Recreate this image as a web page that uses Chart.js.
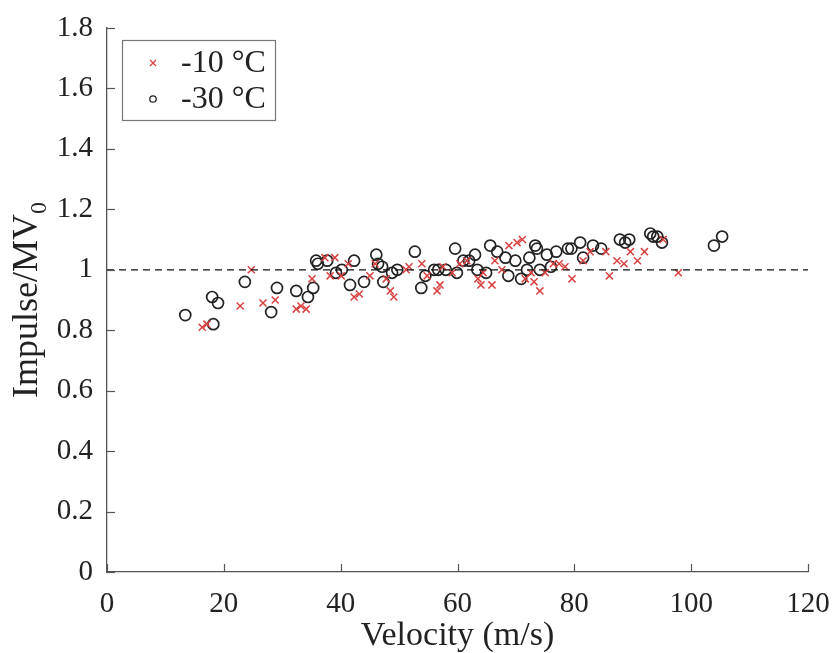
<!DOCTYPE html>
<html>
<head>
<meta charset="utf-8">
<script src="https://cdn.jsdelivr.net/npm/chart.js@4.4.1/dist/chart.umd.min.js"></script>
<style>
  body { margin: 0; background: #fff; }
  canvas { display: block; }
</style>
</head>
<body>
<canvas id="impulseChart" width="832" height="653"></canvas>
<script>
// -10 °C series (red crosses)
var vel10 = [16.3, 17.1, 22.8, 24.7, 26.7, 28.8, 32.4, 33.2, 34.1, 35.1, 37.3, 38.2, 39.0, 40.1, 41.3,
  42.3, 43.2, 45.0, 45.9, 47.8, 48.5, 49.1, 51.2, 51.7, 53.9, 54.8, 56.5, 57.0, 57.5, 59.1, 60.4, 61.6,
  63.5, 64.0, 64.4, 65.9, 66.4, 67.6, 68.8, 70.2, 71.1, 71.6, 72.6, 73.1, 74.1, 75.0, 76.4, 77.4, 78.4,
  79.6, 81.5, 82.7, 85.4, 86.0, 87.3, 88.5, 89.6, 90.8, 92.0, 95.2, 97.8];
var imp10 = [0.81, 0.82, 0.88, 1.0, 0.89, 0.90, 0.87, 0.88, 0.87, 0.97, 1.04, 0.98, 1.04, 0.98, 1.02,
  0.91, 0.92, 0.98, 1.02, 0.97, 0.93, 0.91, 1.0, 1.01, 1.02, 0.98, 0.93, 0.95, 1.01, 0.99, 1.02, 1.03,
  0.97, 0.95, 0.99, 0.95, 1.03, 1.0, 1.08, 1.09, 1.10, 0.97, 0.99, 0.96, 0.93, 0.99, 1.02, 1.02, 1.01,
  0.97, 1.03, 1.06, 1.06, 0.98, 1.03, 1.02, 1.06, 1.03, 1.06, 1.10, 0.99];

// -30 °C series (black circles)
var vel30 = [13.4, 18.0, 18.2, 19.0, 23.6, 28.1, 29.1, 32.4, 34.4, 35.3, 35.8, 36.1, 37.7, 39.2, 40.2,
  41.6, 42.3, 44.0, 46.1, 46.4, 47.1, 47.3, 48.8, 49.7, 52.7, 53.8, 54.5, 56.0, 56.7, 58.0, 59.6, 59.9,
  61.0, 62.0, 63.0, 63.4, 64.9, 65.6, 66.8, 68.2, 68.7, 69.9, 70.9, 71.9, 72.3, 73.3, 73.6, 74.1, 75.3,
  76.0, 76.9, 78.9, 79.5, 81.0, 81.5, 83.2, 84.6, 87.8, 88.7, 89.4, 93.0, 93.5, 94.2, 95.0, 103.9, 105.3];
var imp30 = [0.85, 0.91, 0.82, 0.89, 0.96, 0.86, 0.94, 0.93, 0.91, 0.94, 1.03, 1.02, 1.03, 0.99, 1.0,
  0.95, 1.03, 0.96, 1.05, 1.02, 1.01, 0.96, 0.99, 1.0, 1.06, 0.94, 0.98, 1.0, 1.0, 1.0, 1.07, 0.99,
  1.03, 1.03, 1.05, 1.0, 0.99, 1.08, 1.06, 1.04, 0.98, 1.03, 0.97, 1.0, 1.04, 1.08, 1.07, 1.0, 1.05,
  1.01, 1.06, 1.07, 1.07, 1.09, 1.04, 1.08, 1.07, 1.10, 1.09, 1.10, 1.12, 1.11, 1.11, 1.09, 1.08, 1.11];

var refLine = [{x: 0, y: 1}, {x: 120, y: 1}];
var legendLabels = ['-10 °C', '-30 °C'];

function toPoints(xs, ys) {
  return xs.map(function (x, i) { return {x: x, y: ys[i]}; });
}

var serif = "'Liberation Serif', 'Times New Roman', serif";
var axisColor = '#555';
var red = '#d94040';

// inward ticks, y title with subscript, boxed legend
var extras = {
  id: 'extras',
  afterDraw: function (chart) {
    var ctx = chart.ctx;
    var xs = chart.scales.x, ys = chart.scales.y;
    var area = chart.chartArea;
    ctx.save();
    ctx.strokeStyle = axisColor;
    ctx.lineWidth = 1.2;
    ys.ticks.forEach(function (t) {
      var py = Math.round(ys.getPixelForValue(t.value)) + 0.5;
      ctx.beginPath(); ctx.moveTo(area.left, py); ctx.lineTo(area.left + 8, py); ctx.stroke();
    });
    xs.ticks.forEach(function (t) {
      var px = Math.round(xs.getPixelForValue(t.value)) + 0.5;
      ctx.beginPath(); ctx.moveTo(px, area.bottom); ctx.lineTo(px, area.bottom - 8); ctx.stroke();
    });

    // y axis title
    ctx.fillStyle = '#222';
    ctx.translate(28, (area.top + area.bottom) / 2);
    ctx.rotate(-Math.PI / 2);
    var main = 'Impulse/MV';
    ctx.font = '36px ' + serif;
    var w1 = ctx.measureText(main).width;
    ctx.font = '24px ' + serif;
    var w2 = ctx.measureText('0').width;
    var start = -(w1 + w2) / 2;
    ctx.textBaseline = 'middle';
    ctx.textAlign = 'left';
    ctx.font = '36px ' + serif;
    ctx.fillText(main, start, 0);
    ctx.font = '24px ' + serif;
    ctx.fillText('0', start + w1, 12);
    ctx.restore();

    // legend box
    ctx.save();
    ctx.strokeStyle = '#777';
    ctx.lineWidth = 1.2;
    ctx.strokeRect(122.5, 40.5, 153, 80);
    ctx.font = '32px ' + serif;
    ctx.fillStyle = '#222';
    ctx.textBaseline = 'middle';
    ctx.textAlign = 'left';
    var rows = [63, 99];
    // cross marker
    ctx.strokeStyle = red;
    ctx.lineWidth = 1.3;
    ctx.beginPath();
    ctx.moveTo(150, rows[0] - 3); ctx.lineTo(156, rows[0] + 3);
    ctx.moveTo(156, rows[0] - 3); ctx.lineTo(150, rows[0] + 3);
    ctx.stroke();
    // circle marker
    ctx.strokeStyle = '#222';
    ctx.beginPath();
    ctx.arc(153, rows[1], 3.2, 0, Math.PI * 2);
    ctx.stroke();
    ctx.fillText(legendLabels[0], 181, rows[0] + 1);
    ctx.fillText(legendLabels[1], 181, rows[1] + 1);
    ctx.restore();
  }
};

new Chart(document.getElementById('impulseChart'), {
  type: 'scatter',
  data: {
    datasets: [
      {
        label: 'ref',
        data: refLine,
        showLine: true,
        pointRadius: 0,
        borderColor: '#111',
        borderWidth: 1.3,
        borderDash: [7, 5]
      },
      {
        label: legendLabels[0],
        data: toPoints(vel10, imp10),
        pointStyle: 'cross',
        rotation: 45,
        pointRadius: 5,
        borderColor: red,
        backgroundColor: red,
        pointBorderWidth: 1.5
      },
      {
        label: legendLabels[1],
        data: toPoints(vel30, imp30),
        pointStyle: 'circle',
        pointRadius: 5.5,
        borderColor: '#222',
        backgroundColor: 'rgba(0,0,0,0)',
        pointBorderWidth: 1.7
      }
    ]
  },
  options: {
    responsive: false,
    animation: false,
    layout: { padding: { top: 28, right: 24, left: 0, bottom: 0 } },
    plugins: {
      legend: { display: false },
      tooltip: { enabled: false }
    },
    scales: {
      x: {
        type: 'linear',
        min: 0,
        max: 120,
        afterFit: function (s) { s.height = 81; s.paddingRight = 0; s.paddingLeft = 0; },
        ticks: { stepSize: 20, padding: 15, color: '#222', font: { family: serif, size: 29 }, maxRotation: 0 },
        grid: { drawOnChartArea: false, drawTicks: false },
        border: { color: axisColor, width: 1.3 },
        title: { display: true, text: 'Velocity (m/s)', color: '#222', font: { family: serif, size: 34, lineHeight: 1 }, padding: { top: 0, bottom: 0 } }
      },
      y: {
        min: 0,
        max: 1.8,
        afterFit: function (s) { s.width = 107; s.paddingTop = 0; s.paddingBottom = 0; },
        ticks: {
          stepSize: 0.2,
          padding: 14,
          color: '#222',
          font: { family: serif, size: 29 },
          callback: function (v) { return String(+v.toFixed(1)); }
        },
        grid: { drawOnChartArea: false, drawTicks: false },
        border: { color: axisColor, width: 1.3 }
      }
    }
  },
  plugins: [extras]
});
</script>
</body>
</html>
